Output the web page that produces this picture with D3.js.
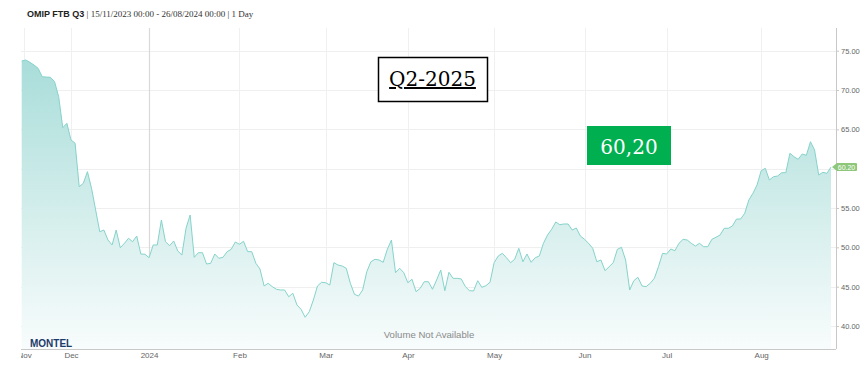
<!DOCTYPE html>
<html lang="en">
<head>
    <title>OMIP FTB Q3</title>
    <meta charset="utf-8">
    <script src="https://cdn.jsdelivr.net/npm/d3@7"></script>
    <style>
        body { margin: 0; background: #fff; }
    </style>
</head>
<body>
<div id="chart"></div>
<script>
    // Daily closes, one per trading day, 15/11/2023 .. 26/08/2024
    const values = [
        73.69, 73.82, 73.52, 73.18, 72.76, 71.69, 71.65, 71.62, 71.06, 69.15,
        65.21, 65.77, 63.65, 63.23, 57.71, 58.14, 59.62, 57.51, 54.75, 51.99,
        52.20, 50.93, 50.30, 52.20, 49.95, 50.51, 51.15, 50.72, 51.44, 49.15,
        49.12, 48.68, 50.30, 50.30, 53.48, 50.72, 50.21, 50.81, 49.53, 49.03,
        52.42, 54.11, 48.73, 49.32, 49.32, 47.88, 47.97, 49.15, 48.61, 48.73,
        49.45, 49.75, 50.68, 50.39, 50.77, 49.45, 49.45, 47.97, 47.25, 45.09,
        45.43, 45.00, 44.67, 44.58, 44.58, 43.72, 44.16, 42.67, 42.12, 41.11,
        41.82, 43.31, 45.09, 45.56, 45.50, 45.21, 48.05, 47.75, 47.63, 47.34,
        45.43, 44.03, 43.81,
        44.58, 46.90, 48.17, 48.48, 48.39, 48.10, 49.75, 50.93, 46.78, 47.34,
        46.78, 45.50, 45.94, 44.36, 44.79, 45.63, 45.63, 44.67, 45.85, 47.12,
        44.49, 46.83, 46.06, 46.06, 45.98, 45.00, 44.49, 44.45, 45.76, 44.92,
        45.12, 45.56, 48.05, 48.90, 49.24, 48.68, 48.05, 48.48, 49.88, 48.17,
        49.15, 48.10, 48.68, 48.90, 50.51, 51.57, 52.29, 53.22, 52.88, 52.97,
        52.97, 52.20, 52.46, 51.44, 51.02, 50.51, 49.88, 48.17, 48.39, 47.03,
        47.54, 48.05, 49.75, 50.00, 48.39, 44.58, 45.76, 46.19, 45.09, 45.00,
        45.43, 46.06, 47.54, 49.24, 49.15, 49.79, 49.57, 50.51, 51.02, 50.93,
        50.51,
        50.17, 50.51, 50.08, 50.08, 51.02, 51.28, 51.57, 52.42, 52.42, 52.71,
        53.60, 53.60, 54.33, 56.02, 56.87, 57.93, 59.74, 60.05, 58.56, 58.98,
        59.07, 59.49, 59.49, 61.96, 61.52, 61.19, 61.87, 61.70, 63.43, 62.38,
        59.20, 59.54, 59.41, 60.20
    ];

    // Month labels and the trading-day index they sit on
    const tickLabels = ["Nov", "Dec", "2024", "Feb", "Mar", "Apr", "May", "Jun", "Jul", "Aug"];
    const tickIndex = [0.6, 12, 31, 53, 74, 94, 115, 137, 157, 180];
    const yTicks = [40, 45, 50, 55, 60, 65, 70, 75];

    const lastValue = values[values.length - 1];
    const quarterLabel = "Q2-2025";
    const priceLabel = "60,20";

    const W = 868, H = 377;
    const plotLeft = 21, plotRight = 836, plotTop = 28, plotBottom = 349;

    const svg = d3.select("#chart")
        .append("svg")
        .attr("width", W)
        .attr("height", H)
        .style("font-family", "'Liberation Sans', Arial, sans-serif");

    const x = d3.scaleLinear()
        .domain([0, values.length - 1])
        .range([21.7, 831]);

    const y = d3.scaleLinear()
        .domain([40, 75])
        .range([326, 50.7]);

    const defs = svg.append("defs");
    const grad = defs.append("linearGradient")
        .attr("id", "fillGrad")
        .attr("gradientUnits", "userSpaceOnUse")
        .attr("x1", 0).attr("x2", 0)
        .attr("y1", y(75)).attr("y2", plotBottom);
    grad.append("stop").attr("offset", "0%").attr("stop-color", "#a6dcd8");
    grad.append("stop").attr("offset", "55%").attr("stop-color", "#d4eeec");
    grad.append("stop").attr("offset", "100%").attr("stop-color", "#f8fcfc");

    // clip for the x labels (in the axis group's own coordinates)
    defs.append("clipPath").attr("id", "xclip")
        .append("rect")
        .attr("x", plotLeft).attr("y", 0)
        .attr("width", W - plotLeft).attr("height", 30);

    // Horizontal grid
    svg.append("g")
        .selectAll("line")
        .data(yTicks)
        .join("line")
        .attr("x1", plotLeft)
        .attr("x2", plotRight)
        .attr("y1", d => Math.round(y(d)) + 0.5)
        .attr("y2", d => Math.round(y(d)) + 0.5)
        .attr("stroke", "#efefef");

    // Vertical grid
    svg.append("g")
        .selectAll("line")
        .data(tickIndex)
        .join("line")
        .attr("x1", d => Math.round(x(d)) + 0.5)
        .attr("x2", d => Math.round(x(d)) + 0.5)
        .attr("y1", plotTop)
        .attr("y2", plotBottom)
        .attr("stroke", (d, i) => tickLabels[i] === "2024" ? "#d9d9d9" : "#f0f0f0")
        .attr("stroke-width", (d, i) => tickLabels[i] === "2024" ? 1.2 : 1);

    // Area + line
    const area = d3.area()
        .x((d, i) => x(i))
        .y0(plotBottom)
        .y1(d => y(d));

    const line = d3.line()
        .x((d, i) => x(i))
        .y(d => y(d));

    svg.append("path")
        .datum(values)
        .attr("d", area)
        .attr("fill", "url(#fillGrad)");

    svg.append("path")
        .datum(values)
        .attr("d", line)
        .attr("fill", "none")
        .attr("stroke", "#85d3cb")
        .attr("stroke-width", 1);

    // Bottom axis
    const xAxis = svg.append("g")
        .attr("transform", `translate(0,${plotBottom})`)
        .attr("clip-path", "url(#xclip)")
        .call(d3.axisBottom(x)
            .tickValues(tickIndex)
            .tickFormat((d, i) => tickLabels[i])
            .tickSize(0)
            .tickPadding(3));
    xAxis.select(".domain").remove();
    xAxis.selectAll("text")
        .attr("fill", "#666")
        .style("font-size", "8px")
        .style("font-family", "'Liberation Sans', Arial, sans-serif");

    svg.append("line")
        .attr("x1", plotLeft).attr("x2", plotRight)
        .attr("y1", plotBottom + 0.5).attr("y2", plotBottom + 0.5)
        .attr("stroke", "#c8c8c8");

    // Right axis (the 60.00 label sits under the last-price tag)
    const yAxis = svg.append("g")
        .attr("transform", `translate(${plotRight},0)`)
        .call(d3.axisRight(y)
            .tickValues(yTicks)
            .tickFormat(d => Math.abs(d - lastValue) < 2 ? "" : d3.format(".2f")(d))
            .tickSize(3)
            .tickPadding(2));
    yAxis.select(".domain").remove();
    yAxis.selectAll("line").attr("stroke", "#c8c8c8");
    yAxis.selectAll("text")
        .attr("fill", "#666")
        .style("font-size", "7.5px")
        .style("font-family", "'Liberation Sans', Arial, sans-serif");

    svg.append("line")
        .attr("x1", plotRight + 0.5).attr("x2", plotRight + 0.5)
        .attr("y1", plotTop).attr("y2", plotBottom)
        .attr("stroke", "#c8c8c8");

    // Last price tag on the axis
    const tagY = y(lastValue);
    svg.append("path")
        .attr("d", `M${plotRight - 4},${tagY} L${plotRight + 1},${tagY - 4} L${plotRight + 20},${tagY - 4} ` +
            `Q${plotRight + 21},${tagY - 4} ${plotRight + 21},${tagY - 3} L${plotRight + 21},${tagY + 3} ` +
            `Q${plotRight + 21},${tagY + 4} ${plotRight + 20},${tagY + 4} L${plotRight + 1},${tagY + 4} Z`)
        .attr("fill", "#8ec77a");
    svg.append("text")
        .attr("x", plotRight + 10.5)
        .attr("y", tagY + 2.5)
        .attr("text-anchor", "middle")
        .attr("fill", "#fff")
        .style("font-size", "7px")
        .text(d3.format(".2f")(lastValue));

    // Header
    const header = svg.append("text")
        .attr("x", 27)
        .attr("y", 17)
        .attr("fill", "#222");
    header.append("tspan")
        .style("font-weight", "bold")
        .style("font-size", "9px")
        .style("font-family", "'Liberation Sans', Arial, sans-serif")
        .text("OMIP FTB Q3");
    header.append("tspan")
        .style("font-family", "'Liberation Serif', Georgia, serif")
        .style("font-size", "9px")
        .attr("fill", "#333")
        .text(" | 15/11/2023 00:00 - 26/08/2024 00:00 | 1 Day");

    // Watermarks
    svg.append("text")
        .attr("x", 30)
        .attr("y", 346.5)
        .attr("fill", "#1d3a6a")
        .style("font-size", "10px")
        .style("font-weight", "bold")
        .style("font-family", "'Liberation Sans', Arial, sans-serif")
        .text("MONTEL");

    svg.append("text")
        .attr("x", 429)
        .attr("y", 337.5)
        .attr("text-anchor", "middle")
        .attr("fill", "#8a8a8a")
        .style("font-size", "9.6px")
        .text("Volume Not Available");

    // Quarter box
    svg.append("rect")
        .attr("x", 378.5).attr("y", 57.5)
        .attr("width", 109).attr("height", 44)
        .attr("fill", "#fff")
        .attr("stroke", "#000")
        .attr("stroke-width", 1.5);
    svg.append("text")
        .attr("x", 432.5)
        .attr("y", 86)
        .attr("text-anchor", "middle")
        .attr("fill", "#000")
        .style("font-family", "'DejaVu Serif', 'Liberation Serif', serif")
        .style("font-size", "20px")
        .style("text-decoration", "underline")
        .text(quarterLabel);

    // Price box
    svg.append("rect")
        .attr("x", 587).attr("y", 126)
        .attr("width", 84).attr("height", 39)
        .attr("fill", "#00b050");
    svg.append("text")
        .attr("x", 629)
        .attr("y", 153.5)
        .attr("text-anchor", "middle")
        .attr("fill", "#fff")
        .style("font-family", "'DejaVu Serif', 'Liberation Serif', serif")
        .style("font-size", "20px")
        .text(priceLabel);
</script>
</body>
</html>
